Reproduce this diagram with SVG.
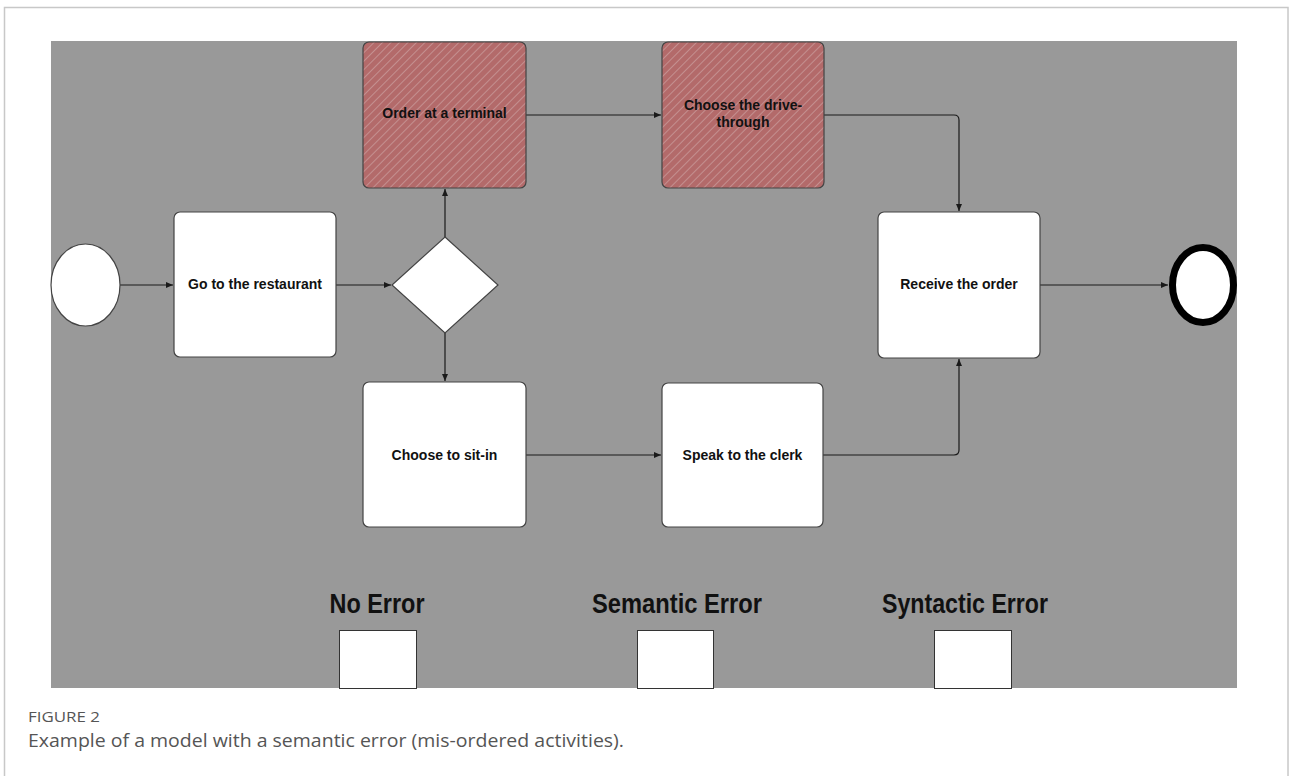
<svg xmlns="http://www.w3.org/2000/svg" width="1290" height="776" viewBox="0 0 1290 776">
<defs>
<style>
.node{fill:#ffffff;stroke:#444;stroke-width:1.2}
.err{fill:url(#hatch);stroke:#444;stroke-width:1.2}
.lbl{font-family:"Liberation Sans",Arial,sans-serif;font-weight:bold;font-size:14px;fill:#111;text-anchor:middle}
.big{font-family:"Liberation Sans",Arial,sans-serif;font-weight:bold;font-size:28px;fill:#111;text-anchor:middle}
.conn{fill:none;stroke:#1a1a1a;stroke-width:1.2}
</style>
<pattern id="hatch" patternUnits="userSpaceOnUse" width="6" height="6" patternTransform="rotate(45)">
<rect width="6" height="6" fill="#b36a6a"/>
<line x1="0" y1="0" x2="0" y2="6" stroke="#c49090" stroke-width="2"/>
</pattern>
<marker id="arr" markerWidth="8" markerHeight="8" refX="7" refY="4" orient="auto" markerUnits="userSpaceOnUse">
<path d="M0,1 L7,4 L0,7 Z" fill="#1a1a1a"/>
</marker>
</defs>
<rect x="0" y="0" width="1290" height="776" fill="#ffffff"/>
<rect x="4.5" y="7.5" width="1283.5" height="800" fill="none" stroke="#c8c8c8" stroke-width="1.5"/>
<rect x="51" y="41" width="1186" height="647" fill="#999999"/>

<g id="connectors">
<path class="conn" d="M120,285 H173" marker-end="url(#arr)"/>
<path class="conn" d="M336,285 H391" marker-end="url(#arr)"/>
<path class="conn" d="M445,237 V189" marker-end="url(#arr)"/>
<path class="conn" d="M445,333 V381" marker-end="url(#arr)"/>
<path class="conn" d="M526,115 H661" marker-end="url(#arr)"/>
<path class="conn" d="M824,115 H954 Q959,115 959,120 V211" marker-end="url(#arr)"/>
<path class="conn" d="M526,455 H661" marker-end="url(#arr)"/>
<path class="conn" d="M823,455 H954 Q959,455 959,450 V359" marker-end="url(#arr)"/>
<path class="conn" d="M1040,285 H1168" marker-end="url(#arr)"/>
</g>

<g id="start"><ellipse cx="85.5" cy="285" rx="34.5" ry="41" class="node"/></g>
<g id="go"><rect x="174" y="212" width="162" height="145" rx="6" class="node"/><text x="255" y="289" class="lbl">Go to the restaurant</text></g>
<g id="gateway"><polygon points="445,237 498,285 445,333 392,285" class="node"/></g>
<g id="terminal"><rect x="363" y="42" width="163" height="146" rx="6" class="err"/><text x="444.5" y="118" class="lbl">Order at a terminal</text></g>
<g id="drive"><rect x="662" y="42" width="162" height="146" rx="6" class="err"/><text x="743" y="110" class="lbl">Choose the drive-</text><text x="743" y="127" class="lbl">through</text></g>
<g id="sitin"><rect x="363" y="382" width="163" height="145" rx="6" class="node"/><text x="444.5" y="460" class="lbl">Choose to sit-in</text></g>
<g id="clerk"><rect x="662" y="383" width="161" height="144" rx="6" class="node"/><text x="742.5" y="460" class="lbl">Speak to the clerk</text></g>
<g id="receive"><rect x="878" y="212" width="162" height="146" rx="6" class="node"/><text x="959" y="289" class="lbl">Receive the order</text></g>
<g id="end"><ellipse cx="1203" cy="285" rx="30.5" ry="37.5" fill="#ffffff" stroke="#000" stroke-width="7"/></g>

<g id="legend">
<text x="377" y="613" class="big" textLength="95" lengthAdjust="spacingAndGlyphs">No Error</text>
<rect x="339.5" y="630.5" width="77" height="58" fill="#fff" stroke="#333" stroke-width="1"/>
<text x="677" y="613" class="big" textLength="170" lengthAdjust="spacingAndGlyphs">Semantic Error</text>
<rect x="637.5" y="630.5" width="76" height="58" fill="#fff" stroke="#333" stroke-width="1"/>
<text x="965" y="613" class="big" textLength="166" lengthAdjust="spacingAndGlyphs">Syntactic Error</text>
<rect x="934.5" y="630.5" width="77" height="58" fill="#fff" stroke="#333" stroke-width="1"/>
</g>

<g id="caption">
<text x="28" y="722" font-family="'Open Sans',sans-serif" font-size="14" fill="#555" textLength="72" lengthAdjust="spacingAndGlyphs">FIGURE 2</text>
<text x="28" y="747" font-family="'Open Sans',sans-serif" font-size="18" fill="#555" textLength="596" lengthAdjust="spacingAndGlyphs">Example of a model with a semantic error (mis-ordered activities).</text>
</g>
</svg>
